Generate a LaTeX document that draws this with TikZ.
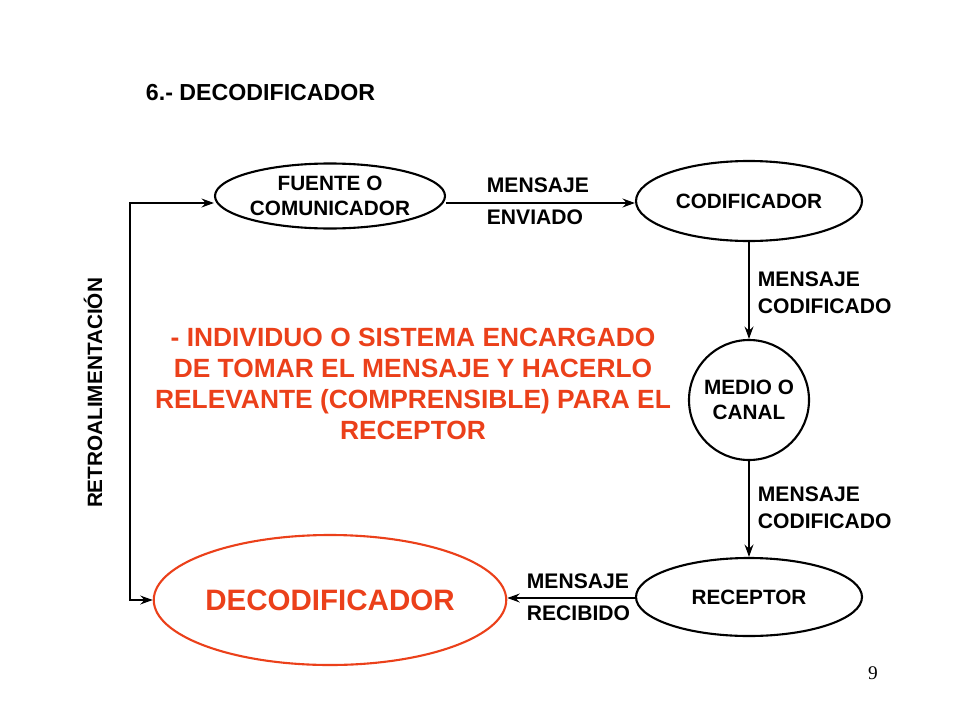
\documentclass[tikz,border=0pt]{standalone}
\usepackage{fontspec}
\setmainfont{Liberation Sans}
\newfontfamily\pagefont{Liberation Serif}
\usetikzlibrary{shapes.geometric,arrows.meta}
\definecolor{redorange}{RGB}{235,64,26}
\begin{document}
\begin{tikzpicture}[x=0.02cm,y=-0.02cm,very thick,>={Stealth[length=7pt,width=5pt]},
blob/.style={draw,ellipse,inner sep=0pt,font=\fontsize{11.8}{14}\selectfont\bfseries,align=center},
lbl/.style={font=\fontsize{12}{15.5}\selectfont\bfseries,align=left,anchor=west}]
\useasboundingbox (0,0) rectangle (960,720);

\node[font=\fontsize{13.2}{15}\selectfont\bfseries,anchor=west] (title) at (139,93) {6.- DECODIFICADOR};

\node[blob,minimum width=230*0.02cm,minimum height=65*0.02cm] (fuente) at (330,196) {FUENTE O\\COMUNICADOR};
\node[blob,minimum width=226*0.02cm,minimum height=80*0.02cm] (cod) at (749,201) {CODIFICADOR};
\node[blob,circle,minimum size=120*0.02cm] (medio) at (749,400) {MEDIO O\\CANAL};
\node[blob,minimum width=226*0.02cm,minimum height=78*0.02cm] (rec) at (749,597) {RECEPTOR};
\node[blob,draw=redorange,text=redorange,minimum width=350*0.02cm,minimum height=130*0.02cm,
  font=\fontsize{16.8}{20}\selectfont\bfseries] (dec) at (330,600) {DECODIFICADOR};

\draw[->] (fuente.east |- 0,203) -- (cod.west |- 0,203);
\node[lbl] (env1) at (480,185) {MENSAJE};
\node[lbl] (env2) at (480,217) {ENVIADO};
\draw[->] (cod) -- (medio);
\node[lbl] (cod1) at (751,293) {MENSAJE\\CODIFICADO};
\draw[->] (medio) -- (rec);
\node[lbl] (cod2) at (751,508) {MENSAJE\\CODIFICADO};
\draw[->] (rec.west |- 0,598) -- (dec.east |- 0,598);
\node[lbl] (rec1) at (520,581) {MENSAJE};
\node[lbl] (rec2) at (520,613) {RECIBIDO};

\coordinate (fb) at (130,203);
\draw[<->] (fuente.west |- fb) -- (fb) -- (130,600) -- (dec.west);
\node[font=\fontsize{11.8}{13}\selectfont\bfseries,rotate=90] (retro) at (93,393) {RETROALIMENTACIÓN};

\node[font=\fontsize{15}{17.5}\selectfont\bfseries,text=redorange,align=center] (desc) at (413,384)
  {- INDIVIDUO O SISTEMA ENCARGADO\\DE TOMAR EL MENSAJE Y HACERLO\\RELEVANTE (COMPRENSIBLE) PARA EL\\RECEPTOR};

\node[font=\pagefont\fontsize{11}{13}\selectfont] (page) at (873,673) {9};
\end{tikzpicture}
\end{document}
